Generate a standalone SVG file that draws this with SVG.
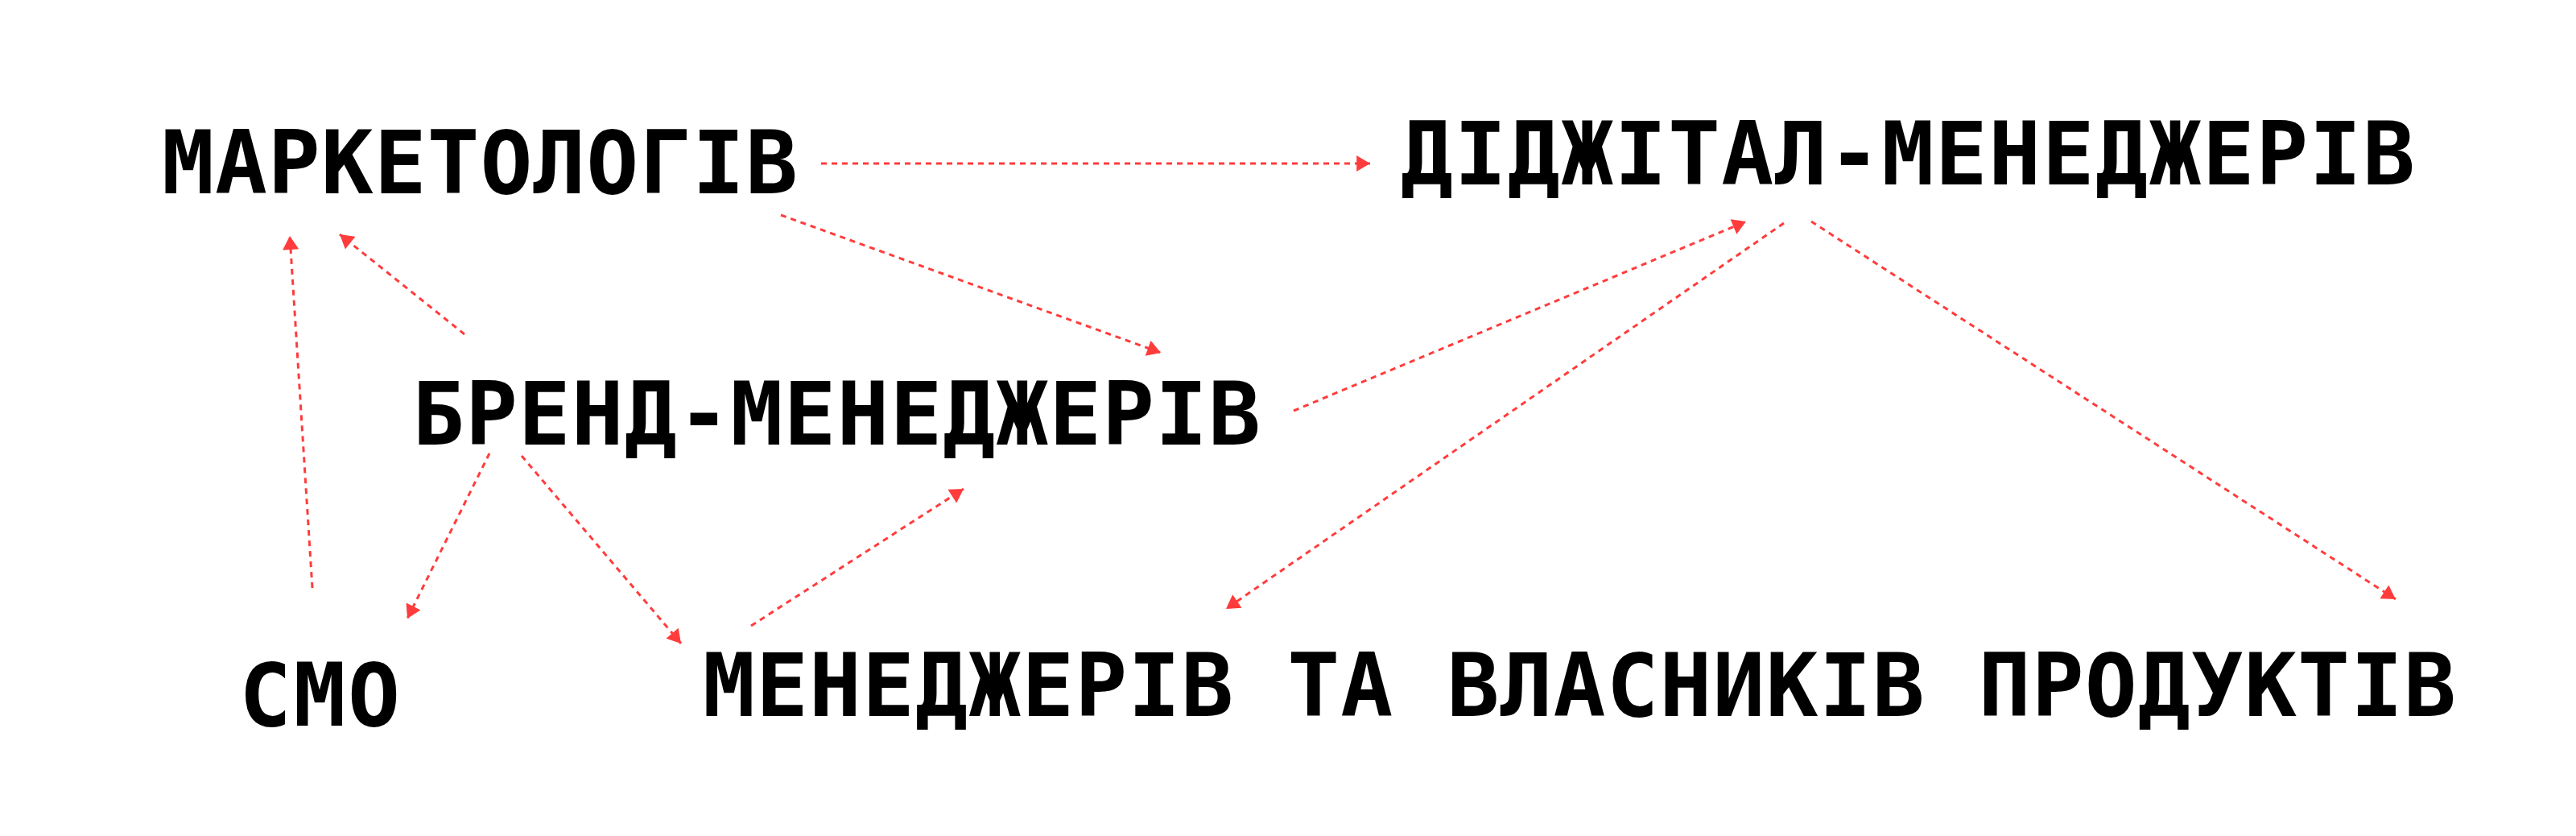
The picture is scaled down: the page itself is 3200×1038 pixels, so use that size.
<svg xmlns="http://www.w3.org/2000/svg" width="3200" height="1038" viewBox="0 0 3200 1038">
<style>
.lbl{font-family:"DejaVu Sans Mono","Liberation Mono",monospace;font-weight:bold;font-size:108px;fill:#000}
.edge{fill:none;stroke:#ff3c3c;stroke-width:3;stroke-dasharray:7 6}
</style>
<defs>
<marker id="ah" markerUnits="userSpaceOnUse" markerWidth="18" markerHeight="20" refX="16" refY="9.5" orient="auto" viewBox="0 0 16 19">
<path d="M0,0 L16,9.5 L0,19 z" fill="#ff3c3c"/>
</marker>
</defs>
<rect width="3200" height="1038" fill="#fff"/>
<g id="connectors">
<line class="edge" x1="1020" y1="203" x2="1702" y2="203" marker-end="url(#ah)"/>
<line class="edge" x1="970" y1="267" x2="1442" y2="438" marker-end="url(#ah)"/>
<line class="edge" x1="1607" y1="510" x2="2169" y2="275" marker-end="url(#ah)"/>
<line class="edge" x1="2216" y1="277" x2="1523" y2="756" marker-end="url(#ah)"/>
<line class="edge" x1="2250" y1="275" x2="2976" y2="744" marker-end="url(#ah)"/>
<line class="edge" x1="577" y1="415" x2="422" y2="291" marker-end="url(#ah)"/>
<line class="edge" x1="388" y1="730" x2="360" y2="293" marker-end="url(#ah)"/>
<line class="edge" x1="608" y1="563" x2="506" y2="768" marker-end="url(#ah)"/>
<line class="edge" x1="648" y1="566" x2="846" y2="799" marker-end="url(#ah)"/>
<line class="edge" x1="933" y1="777" x2="1197" y2="607" marker-end="url(#ah)"/>
</g>
<g id="marketologiv"><text class="lbl" x="201" y="240" textLength="790" lengthAdjust="spacing">МАРКЕТОЛОГІВ</text></g>
<g id="digital"><text class="lbl" x="1740" y="229" textLength="1260" lengthAdjust="spacing">ДІДЖІТАЛ-МЕНЕДЖЕРІВ</text></g>
<g id="brand"><text class="lbl" x="512" y="552" textLength="1054" lengthAdjust="spacing">БРЕНД-МЕНЕДЖЕРІВ</text></g>
<g id="cmo"><text class="lbl" x="297" y="901" textLength="200" lengthAdjust="spacing">СМО</text></g>
<g id="product"><text class="lbl" x="873" y="889" textLength="2178" lengthAdjust="spacing">МЕНЕДЖЕРІВ ТА ВЛАСНИКІВ ПРОДУКТІВ</text></g>
</svg>
